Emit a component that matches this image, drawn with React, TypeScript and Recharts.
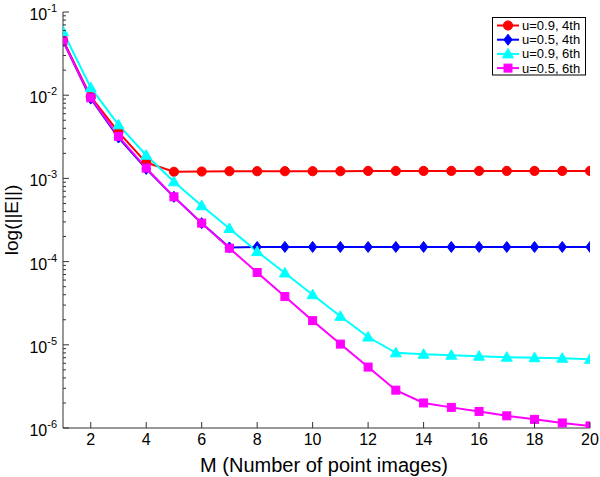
import React from 'react';
import { LineChart, Line, XAxis, YAxis } from 'recharts';

const M = [1, 2, 3, 4, 5, 6, 7, 8, 9, 10, 11, 12, 13, 14, 15, 16, 17, 18, 19, 20];
const u09_4th = [0.046, 0.0096, 0.0036, 0.00155, 0.0012, 0.00121, 0.00122, 0.00122, 0.00122, 0.00122, 0.00122, 0.00123, 0.00123, 0.00123, 0.00123, 0.00123, 0.00123, 0.00123, 0.00123, 0.00123];
const u05_4th = [0.045, 0.0091, 0.0031, 0.0013, 0.0006, 0.00029, 0.000148, 0.00015, 0.00015, 0.00015, 0.00015, 0.00015, 0.00015, 0.00015, 0.00015, 0.00015, 0.00015, 0.00015, 0.00015, 0.00015];
const u09_6th = [0.058, 0.0123, 0.0044, 0.0019, 0.00091, 0.00047, 0.00025, 0.000132, 7.3e-5, 4.0e-5, 2.2e-5, 1.24e-5, 8.0e-6, 7.7e-6, 7.5e-6, 7.3e-6, 7.1e-6, 7.0e-6, 6.9e-6, 6.7e-6];
const u05_6th = [0.045, 0.0093, 0.0032, 0.00133, 0.0006, 0.00029, 0.000145, 7.4e-5, 3.8e-5, 1.95e-5, 1.02e-5, 5.4e-6, 2.85e-6, 2.0e-6, 1.77e-6, 1.58e-6, 1.4e-6, 1.27e-6, 1.15e-6, 1.06e-6];

const seriesNames = ['u=0.9, 4th', 'u=0.5, 4th', 'u=0.9, 6th', 'u=0.5, 6th'];
const seriesKeys = ['a', 'b', 'c', 'd'];
const seriesColors = ['#ff0000', '#0000ff', '#00ffff', '#ff00ff'];
const seriesShapes = ['circle', 'diamond', 'triangle', 'square'];

const xTicks = [2, 4, 6, 8, 10, 12, 14, 16, 18, 20];
const yTicks: number[] = [];
for (let e = -6; e <= -1; e++) {
  for (let k = 1; k <= 9; k++) {
    if (e === -1 && k > 1) break;
    yTicks.push(k * Math.pow(10, e));
  }
}

const data = M.map((m, i) => ({
  m,
  a: u09_4th[i],
  b: u05_4th[i],
  c: u09_6th[i],
  d: u05_6th[i],
}));

const FONT = '"Liberation Sans", Arial, Helvetica, sans-serif';
const AXIS = '#333333';

function isMajor(v: number) {
  const l = Math.log10(v);
  return Math.abs(l - Math.round(l)) < 1e-6;
}

function Marker({ cx, cy, shape, color }: any) {
  if (cx == null || cy == null) return null;
  if (shape === 'circle') return <circle cx={cx} cy={cy} r={4.6} fill={color} stroke={color} />;
  if (shape === 'diamond')
    return <polygon points={`${cx},${cy - 5.5} ${cx + 4.2},${cy} ${cx},${cy + 5.5} ${cx - 4.2},${cy}`} fill={color} stroke={color} />;
  if (shape === 'triangle')
    return <polygon points={`${cx},${cy - 5.5} ${cx + 5.5},${cy + 4} ${cx - 5.5},${cy + 4}`} fill={color} stroke={color} />;
  return <rect x={cx - 4} y={cy - 4} width={8} height={8} fill={color} stroke={color} />;
}

const LeftTick = (props: any) => {
  const { x, y, payload } = props;
  const v = payload.value;
  const major = isMajor(v);
  const len = major ? 6 : 3;
  return (
    <g>
      <line x1={x} y1={y} x2={x + len} y2={y} stroke={AXIS} strokeWidth={1} />
      {major && (
        <text x={x - 6} y={y + 8} textAnchor="end" fontFamily={FONT} fontSize={16} fill="#000">
          <tspan>10</tspan>
          <tspan dy={-8} fontSize={11}>{String(Math.round(Math.log10(v)))}</tspan>
        </text>
      )}
    </g>
  );
};

const RightTick = (props: any) => {
  const { x, y, payload } = props;
  const major = isMajor(payload.value);
  const len = major ? 6 : 3;
  return <line x1={x} y1={y} x2={x - len} y2={y} stroke={AXIS} strokeWidth={1} />;
};

const BottomTick = (props: any) => {
  const { x, y, payload } = props;
  return (
    <g>
      <line x1={x} y1={y} x2={x} y2={y - 6} stroke={AXIS} strokeWidth={1} />
      <text x={x} y={y + 16.5} textAnchor="middle" fontFamily={FONT} fontSize={16} fill="#000">
        {payload.value}
      </text>
    </g>
  );
};

const TopTick = (props: any) => {
  const { x, y } = props;
  return <line x1={x} y1={y} x2={x} y2={y + 6} stroke={AXIS} strokeWidth={1} />;
};

export default function App() {
  return (
    <div style={{ position: 'absolute', left: 0, top: 0, width: 600, height: 477, background: '#fff' }}>
      <LineChart width={600} height={477} data={data} margin={{ top: 12, right: 10, bottom: 0, left: 0 }}>
        <XAxis
          xAxisId="bottom"
          dataKey="m"
          type="number"
          domain={[1, 20]}
          ticks={xTicks}
          allowDataOverflow
          height={49}
          tickSize={0}
          tickMargin={0}
          tickLine={false}
          axisLine={{ stroke: AXIS }}
          tick={<BottomTick />}
          interval={0}
        />
        <XAxis
          xAxisId="top"
          orientation="top"
          dataKey="m"
          type="number"
          domain={[1, 20]}
          ticks={xTicks}
          allowDataOverflow
          height={0}
          tickSize={0}
          tickMargin={0}
          tickLine={false}
          axisLine={{ stroke: AXIS }}
          tick={<TopTick />}
          interval={0}
        />
        <YAxis
          yAxisId="left"
          scale="log"
          type="number"
          domain={[1e-6, 1e-1]}
          ticks={yTicks}
          allowDataOverflow
          width={63}
          tickSize={0}
          tickMargin={0}
          tickLine={false}
          axisLine={{ stroke: AXIS }}
          tick={<LeftTick />}
          interval={0}
        />
        <YAxis
          yAxisId="right"
          orientation="right"
          scale="log"
          type="number"
          domain={[1e-6, 1e-1]}
          ticks={yTicks}
          allowDataOverflow
          width={0}
          tickSize={0}
          tickMargin={0}
          tickLine={false}
          axisLine={{ stroke: AXIS }}
          tick={<RightTick />}
          interval={0}
        />
        {seriesKeys.map((k, i) => (
          <Line
            key={k}
            xAxisId="bottom"
            yAxisId="left"
            dataKey={k}
            name={seriesNames[i]}
            type="linear"
            stroke={seriesColors[i]}
            strokeWidth={2}
            isAnimationActive={false}
            dot={(p: any) => <Marker key={`${k}-${p.index}`} cx={p.cx} cy={p.cy} shape={seriesShapes[i]} color={seriesColors[i]} />}
            activeDot={false}
          />
        ))}
        <text x={18} y={220} transform="rotate(-90 18 220)" textAnchor="middle" fontFamily={FONT} fontSize={19} fill="#000">
          log(||E||)
        </text>
        <text x={324} y={472} textAnchor="middle" fontFamily={FONT} fontSize={20} fill="#000">
          M (Number of point images)
        </text>
      </LineChart>
      <svg style={{ position: 'absolute', left: 0, top: 0 }} width={600} height={477} pointerEvents="none">
        <rect x={492.5} y={17.5} width={93} height={57.5} fill="#fff" stroke="#000" strokeWidth={1} />
        {seriesNames.map((n, i) => {
          const cy = 25.5 + i * 14.2;
          return (
            <g key={n}>
              <line x1={497} y1={cy} x2={519} y2={cy} stroke={seriesColors[i]} strokeWidth={2} />
              <Marker cx={508} cy={cy} shape={seriesShapes[i]} color={seriesColors[i]} />
              <text x={522} y={cy + 4.5} fontFamily={FONT} fontSize={13} fill="#000">
                {n}
              </text>
            </g>
          );
        })}
      </svg>
    </div>
  );
}
